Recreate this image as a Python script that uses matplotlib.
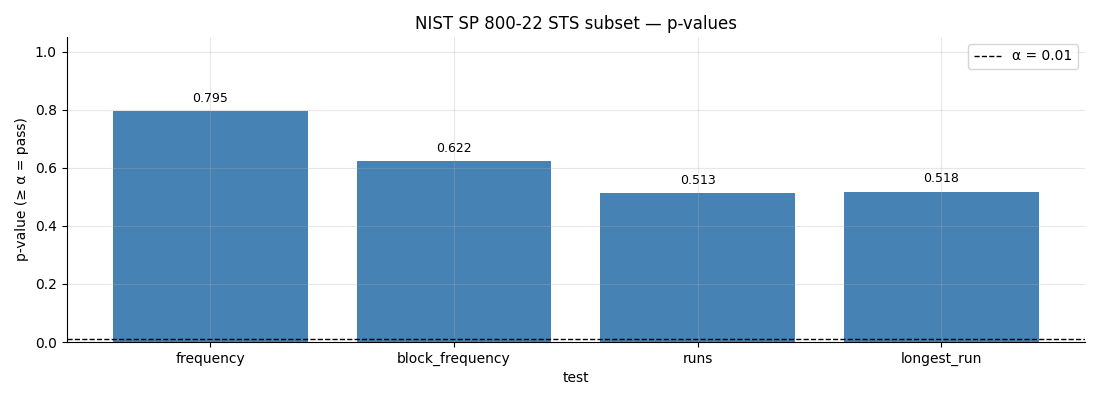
import numpy as np
import matplotlib
matplotlib.use("Agg")
import matplotlib.pyplot as plt

tests = ["frequency", "block_frequency", "runs", "longest_run"]
pvalues = [0.795, 0.622, 0.513, 0.518]
alpha = 0.01

fig = plt.figure(figsize=(11, 4), dpi=100)
ax = fig.add_axes([0.0605, 0.145, 0.926, 0.7625])

x = np.arange(len(tests))
ax.bar(x, pvalues, width=0.8, color="steelblue")
ax.axhline(alpha, color="black", ls="--", lw=1, label="α = %s" % alpha)

for xi, v in zip(x, pvalues):
    ax.text(xi, v + 0.021, "%.3f" % v, ha="center", va="bottom", fontsize=9)

ax.set_xticks(x)
ax.set_xticklabels(tests)
ax.set_ylim(0, 1.05)
ax.set_xlabel("test")
ax.set_ylabel("p-value (≥ α = pass)")
ax.set_title("NIST SP 800-22 STS subset — p-values")
ax.grid(True, alpha=0.3)
ax.spines["top"].set_visible(False)
ax.spines["right"].set_visible(False)
ax.legend(loc="upper right")

fig.savefig("out.png")
